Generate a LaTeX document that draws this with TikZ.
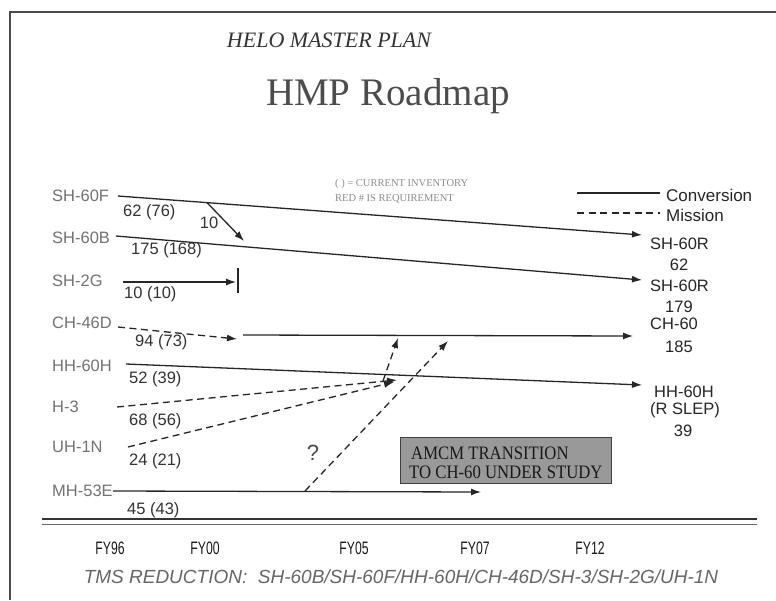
\documentclass[tikz,border=0pt]{standalone}
\usepackage{fontspec}
\setmainfont{Liberation Serif}
\setsansfont{Liberation Sans}
\usetikzlibrary{arrows.meta}
\begin{document}
\begin{tikzpicture}[x=1pt,y=-1pt,
  conn/.style={draw=black!85, line width=1.3pt, -{Latex[length=10pt,width=7pt]}},
  plain/.style={draw=black!85, line width=1.3pt},
  miss/.style={conn, dash pattern=on 7pt off 4.5pt},
  lbl/.style={font=\sffamily\fontsize{16.5}{16.5}\selectfont, text=black!55, anchor=west, inner sep=0pt},
  num/.style={font=\sffamily\fontsize{16.5}{16.5}\selectfont, text=black!80, anchor=west, inner sep=0pt},
  rlbl/.style={font=\sffamily\fontsize{16.5}{16.5}\selectfont, text=black!85, inner sep=0pt},
  fy/.style={font=\sffamily\fontsize{18}{18}\selectfont, text=black!90, inner sep=0pt},
  tiny/.style={font=\fontsize{10.5}{10.5}\selectfont, text=black!45, anchor=west, inner sep=0pt},
  boxtxt/.style={font=\fontsize{19}{19}\selectfont, text=black!90, anchor=west, inner sep=0pt}
]
\useasboundingbox (0,0) rectangle (776,600);
\fill[white] (0,0) rectangle (776,600);
% frame
\draw[black!70, line width=2pt] (10,600) -- (10,12) -- (776,12);
% titles
\node[font=\itshape\fontsize{22}{22}\selectfont, text=black!80] (t1) at (329,40) {HELO MASTER PLAN};
\node[font=\fontsize{39}{39}\selectfont, text=black!70] (t2) at (388,96) {HMP Roadmap};
% small legend text
\node[tiny] (inv) at (335,184) {( ) = CURRENT INVENTORY};
\node[tiny] (req) at (335,199) {RED \# IS REQUIREMENT};
% legend
\coordinate (lc1) at (577,193); \coordinate (lc2) at (660,193);
\coordinate (lm1) at (577,213); \coordinate (lm2) at (660,213);
\draw[plain] (lc1) -- (lc2);
\draw[plain, dash pattern=on 7pt off 4.5pt] (lm1) -- (lm2);
\node[rlbl, anchor=west, font=\sffamily\fontsize{17}{17}\selectfont] (conv) at (666,195) {Conversion};
\node[rlbl, anchor=west, font=\sffamily\fontsize{17}{17}\selectfont] (miss) at (666,215) {Mission};
% left labels
\node[lbl] (sh60f) at (52,196) {SH-60F};
\node[lbl] (sh60b) at (52,238) {SH-60B};
\node[lbl] (sh2g) at (52,281) {SH-2G};
\node[lbl] (ch46d) at (52,323) {CH-46D};
\node[lbl] (hh60h) at (52,366) {HH-60H};
\node[lbl] (h3) at (52,407) {H-3};
\node[lbl] (uh1n) at (52,447) {UH-1N};
\node[lbl] (mh53e) at (52,491) {MH-53E};
% numbers
\node[num] (n1) at (123,212) {62 (76)};
\node[num, anchor=center] (n10) at (209,223) {10};
\node[num] (n2) at (131,250) {175 (168)};
\node[num] (n3) at (124,294) {10 (10)};
\node[num] (n4) at (135,342) {94 (73)};
\node[num] (n5) at (129,379) {52 (39)};
\node[num] (n6) at (129,421) {68 (56)};
\node[num] (n7) at (129,461) {24 (21)};
\node[num] (n8) at (127,510) {45 (43)};
\node[font=\sffamily\fontsize{22}{22}\selectfont, text=black!70] (q) at (313,453) {?};
% right labels
\node[rlbl, anchor=west] (r1) at (650,244) {SH-60R};
\node[rlbl] (r1n) at (679,265) {62};
\node[rlbl, anchor=west] (r2) at (650,286) {SH-60R};
\node[rlbl] (r2n) at (679,307) {179};
\node[rlbl, anchor=west] (r3) at (650,324) {CH-60};
\node[rlbl] (r3n) at (679,347) {185};
\node[rlbl, anchor=west] (r4) at (654,392) {HH-60H};
\node[rlbl, anchor=west] (r4b) at (650,410) {(R SLEP)};
\node[rlbl] (r4n) at (683,431) {39};
% coordinates
\coordinate (a1) at (118,196); \coordinate (a2) at (642,235);
\coordinate (b1) at (116,236); \coordinate (b2) at (642,280);
\coordinate (c1) at (123,282); \coordinate (c2) at (236,282);
\coordinate (tk1) at (238,268); \coordinate (tk2) at (238,293);
\coordinate (d1) at (118,327); \coordinate (d2) at (237,339);
\coordinate (e1) at (243,335); \coordinate (e2) at (633,336);
\coordinate (f1) at (126,364); \coordinate (f2) at (642,385);
\coordinate (g1) at (117,407); \coordinate (g2) at (397,380);
\coordinate (h1) at (128,447); \coordinate (h2) at (394,382);
\coordinate (u1) at (383,381); \coordinate (u2) at (398,338);
\coordinate (q1) at (305,491); \coordinate (q2) at (448,341);
\coordinate (m2) at (481,492);
\coordinate (s1) at (207,202.6); \coordinate (s2) at (244,241);
% connectors
\draw[conn] (a1) -- (a2);
\draw[conn] (s1) -- (s2);
\draw[conn] (b1) -- (b2);
\draw[conn] (c1) -- (c2);
\draw[plain] (tk1) -- (tk2);
\draw[miss] (d1) -- (d2);
\draw[conn] (e1) -- (e2);
\draw[conn] (f1) -- (f2);
\draw[miss] (g1) -- (g2);
\draw[miss] (h1) -- (h2);
\draw[miss] (u1) -- (u2);
\draw[conn] (mh53e.east) -- (m2);
\draw[miss] (q1) -- (q2);
% AMCM box
\node[draw=black!75, line width=1.3pt, fill=black!40, minimum width=211pt, minimum height=46pt,
      inner sep=0pt, anchor=north west] (box) at (400,437) {};
\node[boxtxt] (bt1) at (411,453) {\scalebox{0.88}[1]{AMCM TRANSITION}};
\node[boxtxt] (bt2) at (409,472) {\scalebox{0.88}[1]{TO CH-60 UNDER STUDY}};
% axis
\draw[line width=2.5pt, black!80] (42,519) -- (757,519);
\draw[line width=0.8pt, black!60] (42,524) -- (757,524);
% FY labels
\node[fy] (fy96) at (110,548) {\scalebox{0.68}[1]{FY96}};
\node[fy] (fy00) at (205,548) {\scalebox{0.68}[1]{FY00}};
\node[fy] (fy05) at (354,548) {\scalebox{0.68}[1]{FY05}};
\node[fy] (fy07) at (475,548) {\scalebox{0.68}[1]{FY07}};
\node[fy] (fy12) at (590,548) {\scalebox{0.68}[1]{FY12}};
\node[font=\sffamily\itshape\fontsize{19}{19}\selectfont, text=black!60] (tms) at (401,577)
  {TMS REDUCTION:\ \ SH-60B/SH-60F/HH-60H/CH-46D/SH-3/SH-2G/UH-1N};
\end{tikzpicture}
\end{document}
